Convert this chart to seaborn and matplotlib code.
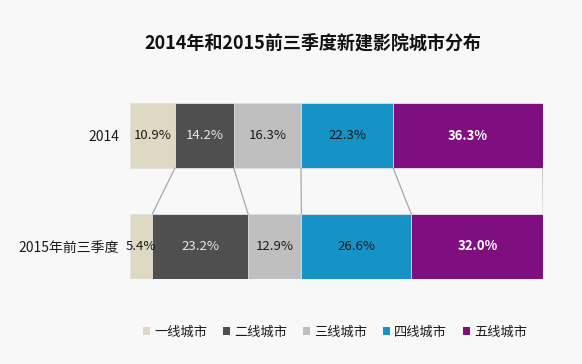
import matplotlib
matplotlib.use('Agg')
import matplotlib.pyplot as plt
from matplotlib.patches import Patch
import seaborn as sns
import numpy as np

sns.set_style('white')
plt.rcParams['font.family'] = ['Noto Sans CJK SC', 'DejaVu Sans']

# data
years = ['2014', '2015年前三季度']
tiers = ['一线城市', '二线城市', '三线城市', '四线城市', '五线城市']
share_2014 = [10.9, 14.2, 16.3, 22.3, 36.3]
share_2015 = [5.4, 23.2, 12.9, 26.6, 32.0]
colors = ['#dfd9c3', '#4f4f4f', '#bfbfbf', '#1593c6', '#7f0f7e']
text_colors = ['#1a1a1a', '#e8e8e8', '#1a1a1a', '#1a1a1a', '#ffffff']
bold = [False, False, False, False, True]

bg = '#f8f8f8'
fig = plt.figure(figsize=(5.82, 3.64), dpi=100, facecolor=bg)
ax = fig.add_axes([130 / 582, 1 - 279 / 364, 413 / 582, 176 / 364])
ax.set_facecolor(bg)

h = 0.5856
vals = np.array([share_2014, share_2015])
cum = vals.cumsum(axis=1)

# stacked bars: draw cumulative totals from largest to smallest
for k in range(len(tiers) - 1, -1, -1):
    sns.barplot(x=cum[:, k], y=years, color=colors[k], width=h, orient='h',
                saturation=1, edgecolor='#e4e4e4', linewidth=0.6, ax=ax)

# labels
for i in range(len(years)):
    start = 0
    for k in range(len(tiers)):
        v = vals[i, k]
        ax.text(start + v / 2, i, f'{v:.1f}%', ha='center', va='center',
                fontsize=9.5, color=text_colors[k],
                fontweight='bold' if bold[k] else 'normal')
        start += v

# connector lines between the two bars
for k in range(len(tiers)):
    ax.plot([cum[0, k], cum[1, k]], [h / 2, 1 - h / 2], color='#a8a8a8', lw=0.9)

ax.set_xlim(0, 100)
ax.set_ylim(1 + h / 2, -h / 2)
ax.set_xticks([])
ax.set_xlabel('')
ax.set_ylabel('')
ax.tick_params(axis='y', length=0, labelsize=10, pad=8, colors='#1a1a1a')
for lbl in ax.get_yticklabels():
    lbl.set_va('center_baseline')
sns.despine(ax=ax, left=True, bottom=True)

fig.text(313 / 582, 1 - 43 / 364, '2014年和2015前三季度新建影院城市分布',
         ha='center', va='center', fontsize=13, fontweight='bold', color='#111111')

handles = [Patch(facecolor=c, edgecolor='none') for c in colors]
fig.legend(handles, tiers, loc='center', bbox_to_anchor=(335 / 582, 1 - 332 / 364),
           ncol=5, frameon=False, fontsize=9.5, handlelength=0.55, handleheight=0.55,
           handletextpad=0.3, columnspacing=1.2, labelcolor='#1a1a1a')

fig.savefig('out.png', dpi=100, facecolor=bg)
